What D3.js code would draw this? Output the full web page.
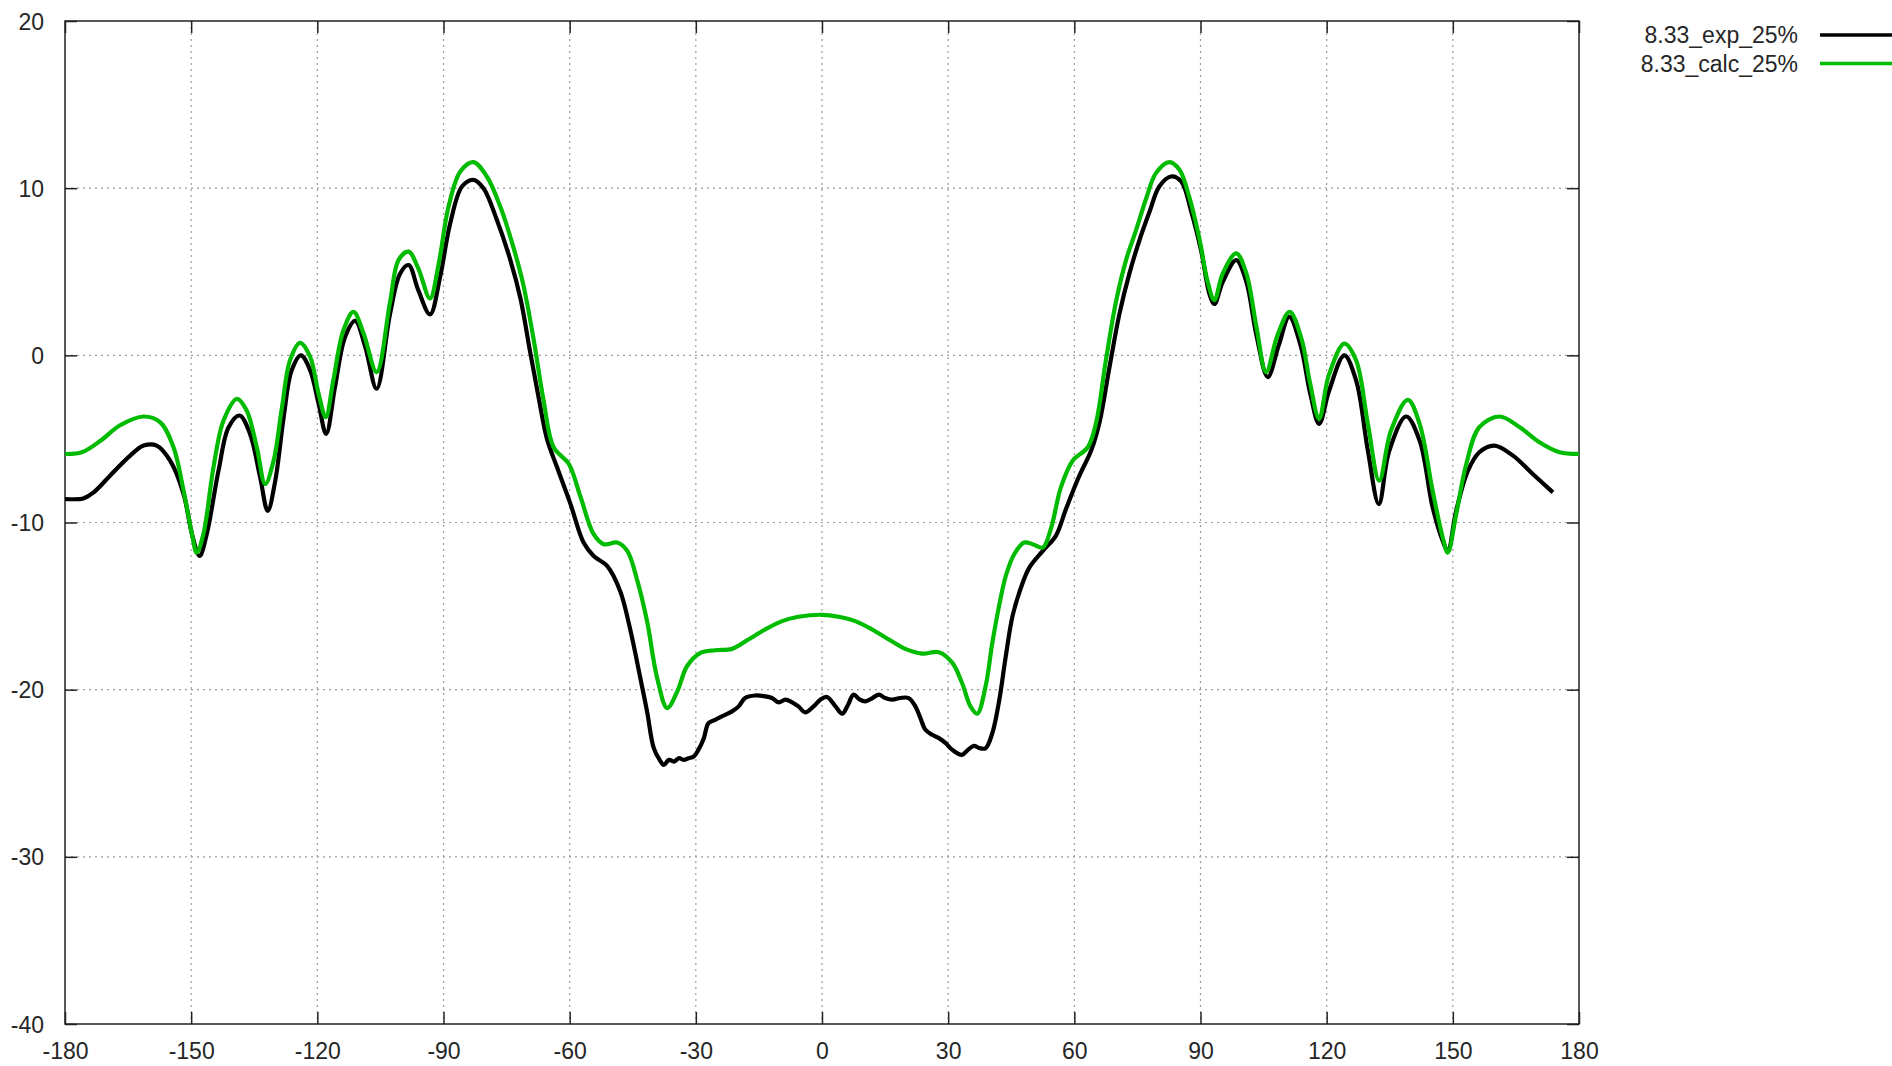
<!DOCTYPE html>
<html>
<head>
<meta charset="utf-8">
<script src="https://cdn.jsdelivr.net/npm/d3@7"></script>
<style>
  html, body { margin: 0; padding: 0; background: #fff; }
  svg text { font-family: "Liberation Sans", Arial, sans-serif; font-size: 23px; fill: #262626; }
</style>
</head>
<body>
<svg id="chart" width="1892" height="1066"></svg>
<script>
// Angle (deg) and level (dB) for the measured pattern
const expAngle = [-180, -176.5, -175.5, -173.2, -169.3, -164.5, -161.3, -158.2, -155.0, -151.8, -149.8, -148.0, -146.3, -143.5, -141.1, -138.5, -136.0, -133.6, -131.8, -130.0, -128.0, -126.1, -123.9, -121.7, -119.7, -117.9, -115.8, -113.4, -111.0, -108.6, -105.9, -102.7, -100.3, -98.3, -96.0, -93.2, -90.8, -88.4, -85.6, -82.9, -80.5, -77.3, -74.1, -71.7, -69.4, -67.4, -65.4, -63.0, -59.8, -56.7, -54.3, -51.1, -48.0, -45.6, -43.2, -41.6, -40.0, -38.6, -37.6, -36.4, -35.2, -34.0, -32.9, -31.7, -30.5, -29.4, -28.1, -27.0, -25.4, -23.8, -21.4, -19.8, -18.3, -15.9, -13.5, -11.9, -10.3, -8.7, -7.1, -5.6, -4.0, -2.0, -0.4, 1.2, 3.2, 4.8, 6.2, 7.5, 9.0, 10.3, 12.0, 13.5, 15.0, 16.7, 18.6, 20.6, 22.2, 23.4, 24.6, 26.2, 27.8, 29.4, 31.0, 33.3, 34.7, 36.1, 37.5, 38.9, 40.5, 42.1, 43.7, 45.3, 47.3, 49.3, 52.5, 55.6, 58.0, 61.2, 64.0, 66.0, 68.3, 70.7, 73.1, 75.5, 77.9, 80.2, 83.0, 85.4, 87.8, 90.2, 92.1, 93.3, 95.3, 98.5, 100.9, 103.3, 106.0, 108.6, 111.1, 113.8, 116.1, 118.2, 120.6, 124.2, 127.0, 129.8, 132.4, 134.9, 138.9, 142.1, 145.2, 147.6, 148.8, 150.8, 153.6, 156.3, 159.9, 164.3, 169.0, 173.8];
const expLevel = [-8.6, -8.6, -8.55, -8.2, -7.2, -6.0, -5.4, -5.4, -6.3, -8.3, -10.7, -12.0, -10.7, -6.9, -4.3, -3.6, -4.7, -7.3, -9.3, -7.5, -3.7, -0.9, 0.0, -0.9, -2.9, -4.7, -1.9, 1.1, 2.06, 0.5, -2.0, 2.5, 4.9, 5.4, 3.9, 2.45, 4.7, 7.9, 10.1, 10.5, 10.0, 8.1, 5.7, 3.4, 0.2, -2.5, -5.0, -6.7, -8.9, -11.2, -12.0, -12.6, -14.1, -16.4, -19.3, -21.3, -23.5, -24.2, -24.5, -24.2, -24.3, -24.1, -24.2, -24.1, -24.0, -23.6, -22.9, -22.0, -21.8, -21.6, -21.3, -21.0, -20.5, -20.35, -20.4, -20.5, -20.76, -20.6, -20.76, -21.0, -21.36, -21.0, -20.6, -20.44, -21.0, -21.44, -20.9, -20.3, -20.6, -20.7, -20.5, -20.3, -20.5, -20.6, -20.5, -20.5, -21.0, -21.7, -22.4, -22.7, -22.9, -23.2, -23.6, -23.9, -23.6, -23.36, -23.5, -23.5, -22.6, -20.7, -18.0, -15.6, -13.9, -12.7, -11.7, -10.8, -9.2, -7.2, -5.7, -4.0, -0.8, 2.45, 4.9, 6.9, 8.6, 10.1, 10.7, 10.4, 8.6, 6.2, 3.7, 3.07, 4.4, 5.7, 4.4, 1.2, -1.3, 0.6, 2.3, 0.6, -2.3, -4.1, -2.1, 0.0, -1.5, -5.7, -8.9, -5.7, -3.66, -5.1, -9.1, -11.1, -11.7, -9.3, -6.9, -5.8, -5.4, -6.0, -7.1, -8.2];

// Angle (deg) and level (dB) for the calculated pattern
const calcAngle = [-180, -176, -171.5, -167, -161.3, -157.4, -154.2, -151.8, -149.8, -148.7, -147.1, -144.7, -142.3, -139.1, -136.8, -134.4, -132.4, -130.4, -128.4, -126.5, -124.1, -121.7, -119.7, -118.0, -116.2, -113.8, -111.4, -109.0, -105.9, -102.7, -100.7, -98.3, -96.0, -93.2, -91.2, -88.8, -86.0, -82.9, -79.7, -76.5, -73.3, -71.0, -68.6, -66.2, -63.8, -60.2, -57.5, -54.3, -51.9, -48.7, -46.3, -44.0, -41.6, -39.2, -36.8, -34.4, -32.1, -28.9, -25.4, -21.4, -17.5, -13.5, -9.5, -5.6, 0, 4.0, 7.9, 11.9, 15.9, 19.8, 23.8, 27.8, 31.0, 33.3, 35.3, 36.9, 38.9, 40.5, 42.1, 43.7, 45.7, 48.1, 50.1, 52.5, 54.4, 56.8, 59.6, 63.2, 65.2, 67.5, 69.9, 72.3, 74.7, 77.1, 79.4, 82.6, 85.0, 87.4, 89.8, 91.7, 93.3, 95.3, 98.5, 100.9, 103.3, 105.6, 108.3, 111.2, 114.0, 116.0, 118.2, 120.5, 124.2, 127.0, 129.8, 132.5, 135.3, 139.3, 142.1, 145.2, 147.6, 148.8, 150.8, 153.2, 156.3, 161.1, 165.9, 170.6, 175.4, 180];
const calcLevel = [-5.9, -5.8, -5.1, -4.2, -3.66, -4.0, -5.5, -8.1, -10.7, -11.8, -10.7, -6.7, -3.9, -2.6, -3.3, -5.5, -7.7, -6.3, -3.1, -0.3, 0.74, -0.1, -2.3, -3.7, -1.5, 1.5, 2.6, 1.3, -1.0, 3.2, 5.7, 6.2, 5.2, 3.4, 5.4, 8.9, 11.0, 11.56, 10.7, 8.9, 6.4, 4.2, 1.0, -2.7, -5.5, -6.5, -8.4, -10.7, -11.3, -11.2, -11.7, -13.4, -15.9, -19.3, -21.1, -20.1, -18.6, -17.8, -17.64, -17.56, -17.0, -16.4, -15.9, -15.64, -15.52, -15.64, -15.9, -16.4, -17.0, -17.56, -17.84, -17.76, -18.4, -19.6, -21.0, -21.44, -19.8, -17.2, -15.0, -13.2, -11.9, -11.2, -11.3, -11.5, -10.4, -7.9, -6.3, -5.5, -4.0, -0.3, 3.2, 5.7, 7.5, 9.4, 10.9, 11.56, 11.1, 9.4, 6.9, 4.4, 3.3, 4.9, 6.1, 4.9, 1.7, -1.0, 1.2, 2.6, 1.0, -1.6, -3.8, -1.2, 0.7, -0.3, -4.1, -7.5, -4.5, -2.66, -4.1, -8.1, -10.9, -11.8, -9.5, -6.5, -4.3, -3.66, -4.3, -5.2, -5.8, -5.9];

const xTicks = [-180, -150, -120, -90, -60, -30, 0, 30, 60, 90, 120, 150, 180];
const yTicks = [-40, -30, -20, -10, 0, 10, 20];

const seriesNames = ["8.33_exp_25%", "8.33_calc_25%"];
const seriesColors = ["#000000", "#00bb00"];

const margin = { left: 65, right: 313, top: 21, bottom: 42 };
const W = 1892, H = 1066;
const innerW = W - margin.left - margin.right;
const innerH = H - margin.top - margin.bottom;

const svg = d3.select("#chart");
const g = svg.append("g").attr("transform", `translate(${margin.left},${margin.top})`);

const x = d3.scaleLinear().domain([-180, 180]).range([0, innerW]);
const y = d3.scaleLinear().domain([-40, 20]).range([innerH, 0]);

// plain hyphen-minus tick labels
const fmt = d => String(d);

// dotted grid
const grid = g.append("g").attr("class", "grid");
grid.selectAll("line.gx")
  .data(xTicks.slice(1, -1))
  .join("line").attr("class", "gx")
  .attr("x1", d => x(d)).attr("x2", d => x(d))
  .attr("y1", 0).attr("y2", innerH);
grid.selectAll("line.gy")
  .data(yTicks.slice(1, -1))
  .join("line").attr("class", "gy")
  .attr("x1", 0).attr("x2", innerW)
  .attr("y1", d => y(d)).attr("y2", d => y(d));
grid.selectAll("line")
  .attr("stroke", "#9a9a9a")
  .attr("stroke-width", 1.2)
  .attr("stroke-dasharray", "2,4");

// axes with inward ticks on all four sides
const tickLen = 12;
const axB = g.append("g").attr("transform", `translate(0,${innerH})`)
  .call(d3.axisBottom(x).tickValues(xTicks).tickSize(-tickLen).tickPadding(35).tickFormat(fmt));
const axT = g.append("g")
  .call(d3.axisTop(x).tickValues(xTicks).tickSize(-tickLen).tickFormat(""));
const axL = g.append("g")
  .call(d3.axisLeft(y).tickValues(yTicks).tickSize(-tickLen).tickPadding(21).tickFormat(fmt));
const axR = g.append("g").attr("transform", `translate(${innerW},0)`)
  .call(d3.axisRight(y).tickValues(yTicks).tickSize(-tickLen).tickFormat(""));

[axB, axT, axL, axR].forEach(a => {
  a.select(".domain").remove();
  a.selectAll(".tick line").attr("stroke", "#222").attr("stroke-width", 1.5);
  a.selectAll("text").attr("fill", "#262626").style("font-size", "23px")
    .style("font-family", '"Liberation Sans", Arial, sans-serif');
});
axB.selectAll("text").attr("dy", "0");
axL.selectAll("text").attr("dy", "0.35em");

// plot border
g.append("rect")
  .attr("x", 0).attr("y", 0).attr("width", innerW).attr("height", innerH)
  .attr("fill", "none").attr("stroke", "#222").attr("stroke-width", 1.5);

// series curves
const line = d3.line()
  .x(d => x(d[0]))
  .y(d => y(d[1]))
  .curve(d3.curveCatmullRom.alpha(0.5));

const expPts = expAngle.map((a, i) => [a, expLevel[i]]);
const calcPts = calcAngle.map((a, i) => [a, calcLevel[i]]);

g.append("path").datum(expPts)
  .attr("d", line)
  .attr("fill", "none").attr("stroke", seriesColors[0])
  .attr("stroke-width", 4.2).attr("stroke-linejoin", "round");

g.append("path").datum(calcPts)
  .attr("d", line)
  .attr("fill", "none").attr("stroke", seriesColors[1])
  .attr("stroke-width", 4.2).attr("stroke-linejoin", "round");

// legend
const legend = svg.append("g").attr("transform", "translate(1798,35)");
seriesNames.forEach((name, i) => {
  const row = legend.append("g").attr("transform", `translate(0,${i * 28.5})`);
  row.append("text")
    .attr("x", 0).attr("y", 0).attr("dy", "0.35em")
    .attr("text-anchor", "end")
    .text(name);
  row.append("line")
    .attr("x1", 22).attr("x2", 100).attr("y1", 0).attr("y2", 0)
    .attr("stroke", seriesColors[i]).attr("stroke-width", 3.6);
});
</script>
</body>
</html>
